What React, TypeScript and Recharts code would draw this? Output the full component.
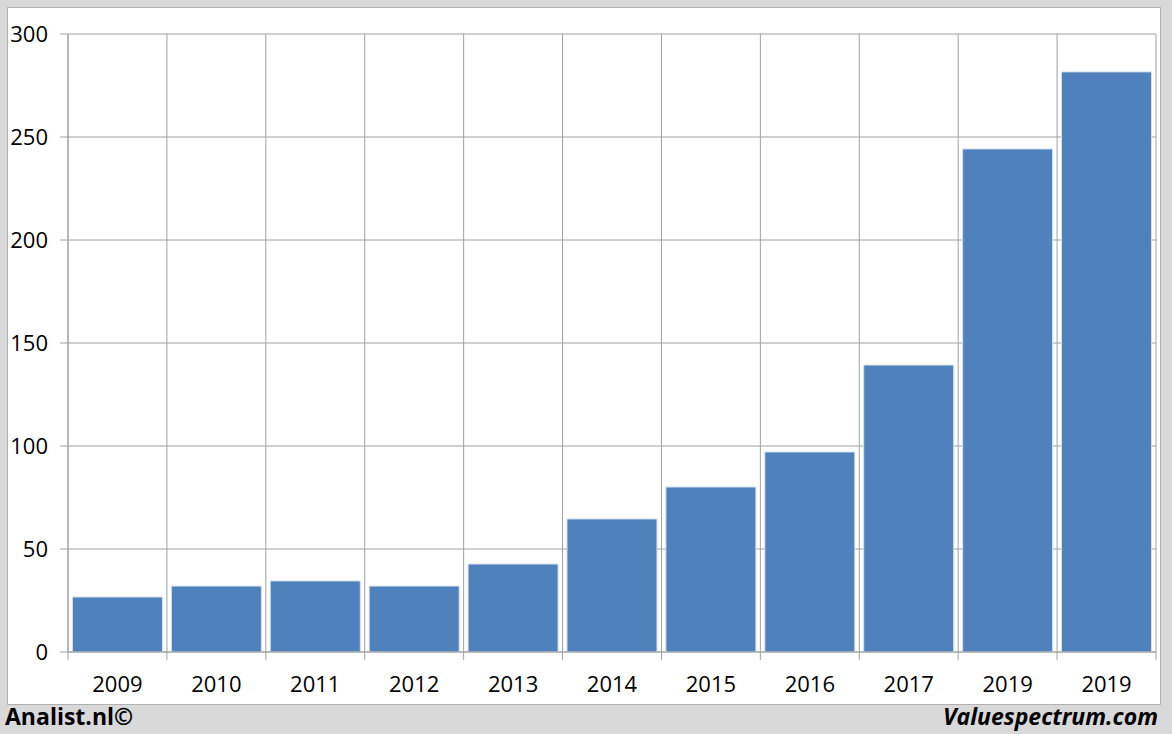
import React from 'react';
import { BarChart, Bar, XAxis, YAxis, CartesianGrid } from 'recharts';

const years = ['2009', '2010', '2011', '2012', '2013', '2014', '2015', '2016', '2017', '2019', '2019'];
const values = [26.7, 32, 34.5, 32, 42.7, 64.6, 80.1, 97.1, 139.3, 244.2, 281.6];
const yTicks = [0, 50, 100, 150, 200, 250, 300];

const data = years.map((year, i) => ({ idx: i, year, value: values[i] }));

const GRID = '#a0a0a0';
const FONT = '"Open Sans", sans-serif';

// tick drawn at the left boundary of each category (plus the right edge for the last)
function XTick(props: any) {
    const { x, y, payload, index, half } = props;
    const label = years[payload.value];
    return (
        <g>
            <line x1={x - half} x2={x - half} y1={y - 8} y2={y} stroke={GRID} strokeWidth={1} />
            {index === years.length - 1 && (
                <line x1={x + half} x2={x + half} y1={y - 8} y2={y} stroke={GRID} strokeWidth={1} />
            )}
            <text x={x} y={y + 32} textAnchor="middle" fill="#000" fontSize={22} fontFamily={FONT}>
                {label}
            </text>
        </g>
    );
}

export default function App() {
    const chartW = 1172;
    const plotLeft = 68;
    const plotRight = 1156;
    const half = (plotRight - plotLeft) / years.length / 2;

    return (
        <div style={{ position: 'fixed', left: 0, top: 0, width: 1172, height: 734, background: '#d9d9d9', overflow: 'hidden' }}>
            <div
                style={{
                    position: 'absolute',
                    left: 7,
                    top: 7,
                    width: 1152,
                    height: 696,
                    background: '#fff',
                    border: '1px solid #b0b0b0',
                }}
            />
            <div style={{ position: 'absolute', left: 0, top: 0 }}>
                <BarChart
                    width={chartW}
                    height={734}
                    data={data}
                    margin={{ top: 34, right: chartW - plotRight, bottom: 0, left: 8 }}
                    barCategoryGap="4.5%"
                >
                    <CartesianGrid
                        stroke={GRID}
                        strokeWidth={1}
                        verticalCoordinatesGenerator={({ offset }: any) =>
                            years.map((_, i) => offset.left + (i * offset.width) / years.length).concat(offset.left + offset.width)
                        }
                    />
                    <XAxis
                        dataKey="idx"
                        type="category"
                        height={82}
                        axisLine={{ stroke: GRID }}
                        tickLine={false}
                        interval={0}
                        tick={(p: any) => <XTick {...p} half={half} />}
                    />
                    <YAxis
                        width={60}
                        domain={[0, 300]}
                        ticks={yTicks}
                        axisLine={{ stroke: GRID }}
                        tickLine={{ stroke: GRID }}
                        tickSize={8}
                        tick={{ fill: '#000', fontSize: 22, fontFamily: FONT, dx: -10 }}
                        interval={0}
                    />
                    <Bar dataKey="value" fill="#4f81bd" stroke="#d6e0ee" strokeWidth={1} isAnimationActive={false} />
                </BarChart>
            </div>
            <div
                style={{
                    position: 'absolute',
                    left: 5,
                    top: 700,
                    fontFamily: FONT,
                    fontWeight: 700,
                    fontSize: 23,
                    color: '#000',
                }}
            >
                Analist.nl©
            </div>
            <div
                style={{
                    position: 'absolute',
                    right: 14,
                    top: 700,
                    fontFamily: FONT,
                    fontWeight: 700,
                    fontStyle: 'italic',
                    fontSize: 23,
                    color: '#000',
                }}
            >
                Valuespectrum.com
            </div>
        </div>
    );
}
